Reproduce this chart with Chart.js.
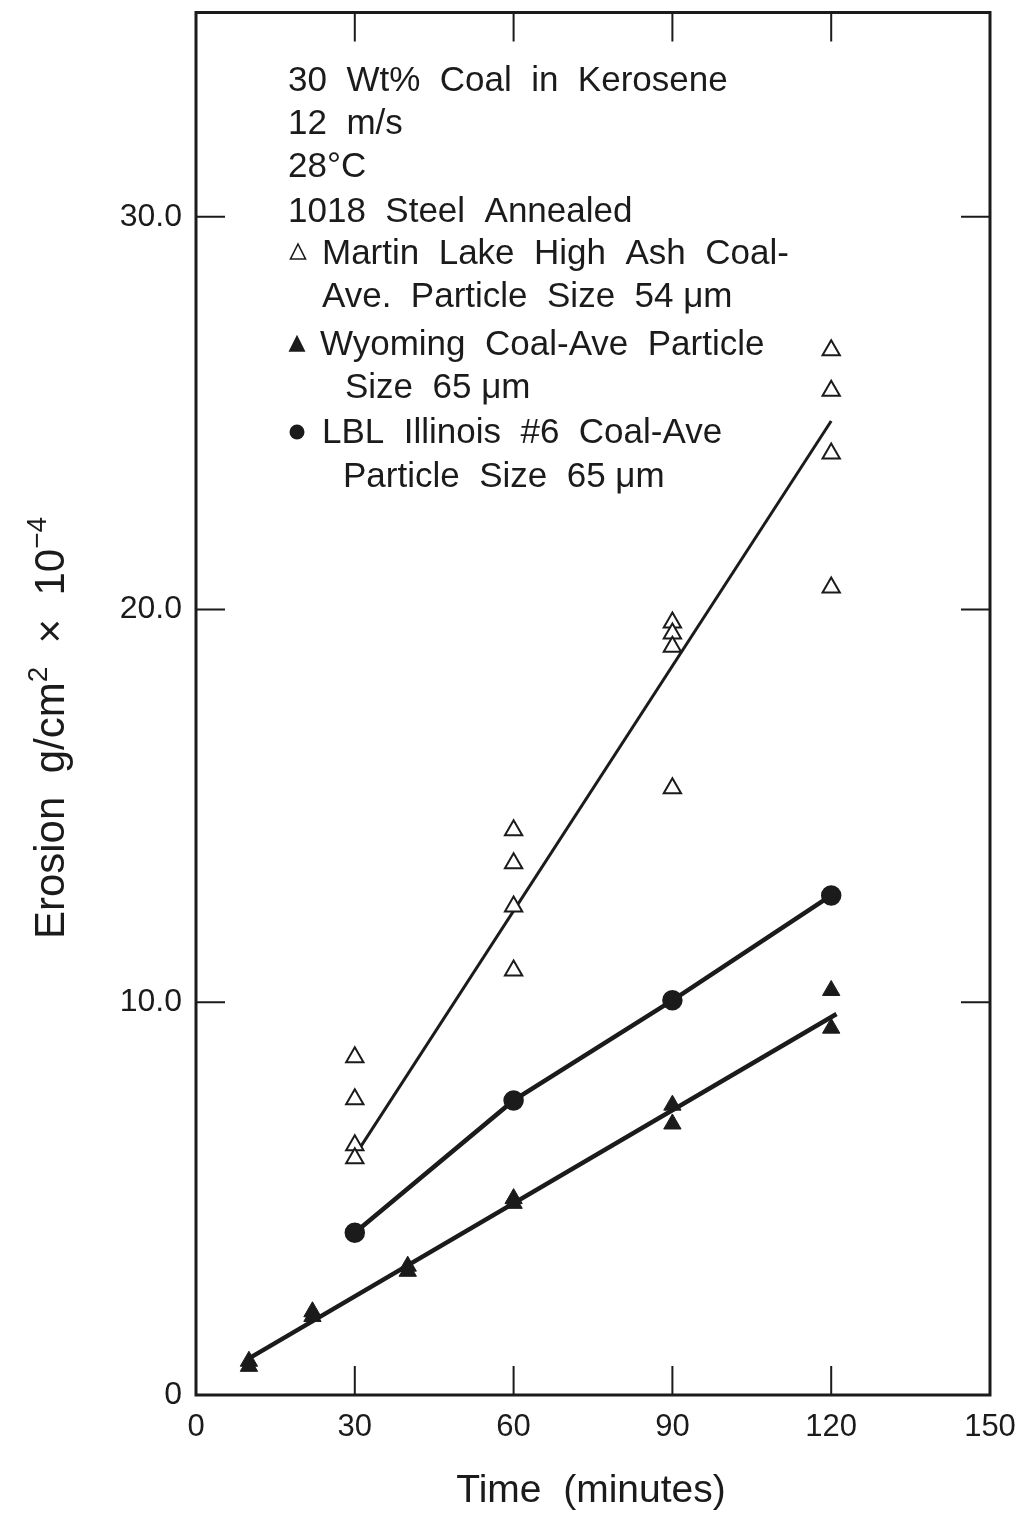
<!DOCTYPE html>
<html>
<head>
<meta charset="utf-8">
<script src="https://cdn.jsdelivr.net/npm/chart.js@4.4.1/dist/chart.umd.min.js"></script>
<style>
  html, body { margin: 0; padding: 0; background: #fff; }
  canvas { display: block; }
</style>
</head>
<body>
<canvas id="erosionChart" width="1019" height="1513"></canvas>
<script>
// valores (tempo em minutos, erosão em g/cm2 x 10^-4)
const xTicks = [0, 30, 60, 90, 120, 150];
const yTicks = [0, 10, 20, 30];

const martinTime = [30, 30, 30, 30, 60, 60, 60, 60, 90, 90, 90, 90, 120, 120, 120, 120];
const martinErosion = [8.6, 7.53, 6.36, 6.03, 14.38, 13.54, 12.44, 10.81, 19.67, 19.39, 19.05, 15.45, 26.6, 25.57, 23.97, 20.56];

const wyomingTime = [10, 10, 22, 22, 40, 40, 60, 60, 90, 90, 120, 120];
const wyomingErosion = [0.86, 0.73, 2.12, 2.0, 3.28, 3.15, 5.0, 4.88, 7.38, 6.9, 10.3, 9.34];

const illinoisTime = [30, 60, 90, 120];
const illinoisErosion = [4.13, 7.5, 10.05, 12.72];

// retas ajustadas desenhadas no original
const martinFitTime = [31, 120];
const martinFitErosion = [6.3, 24.8];
const wyomingFitTime = [10.5, 121];
const wyomingFitErosion = [0.97, 9.7];

const legendLines = [
    '30  Wt%  Coal  in  Kerosene',
    '12  m/s',
    '28°C',
    '1018  Steel  Annealed'
];
const seriesLabels = [
    ['Martin  Lake  High  Ash  Coal-', 'Ave.  Particle  Size  54 μm'],
    ['Wyoming  Coal-Ave  Particle', 'Size  65 μm'],
    ['LBL  Illinois  #6  Coal-Ave', 'Particle  Size  65 μm']
];

const INK = '#1b1b1b';
const FONT = '"Liberation Sans", Arial, Helvetica, sans-serif';

function toPoints(xs, ys) {
    return xs.map((x, i) => ({ x: x, y: ys[i] }));
}

function noPadding(s) {
    s.paddingTop = 0;
    s.paddingBottom = 0;
    s.paddingLeft = 0;
    s.paddingRight = 0;
}

// moldura com marcas para dentro, textos do quadro e títulos dos eixos
const framePlugin = {
    id: 'frame',
    afterDraw(chart) {
        const ctx = chart.ctx;
        const a = chart.chartArea;
        const xs = chart.scales.x;
        const ys = chart.scales.y;
        const tick = 29;

        ctx.save();
        ctx.strokeStyle = INK;
        ctx.lineWidth = 3;
        ctx.strokeRect(a.left, a.top, a.right - a.left, a.bottom - a.top);

        ctx.lineWidth = 2;
        ctx.beginPath();
        xTicks.slice(1, -1).forEach(v => {
            const px = xs.getPixelForValue(v);
            ctx.moveTo(px, a.bottom); ctx.lineTo(px, a.bottom - tick);
            ctx.moveTo(px, a.top); ctx.lineTo(px, a.top + tick);
        });
        yTicks.slice(1).forEach(v => {
            const py = ys.getPixelForValue(v);
            ctx.moveTo(a.left, py); ctx.lineTo(a.left + tick, py);
            ctx.moveTo(a.right, py); ctx.lineTo(a.right - tick, py);
        });
        ctx.stroke();

        // bloco de texto
        ctx.fillStyle = INK;
        ctx.font = '35px ' + FONT;
        ctx.textAlign = 'left';
        ctx.textBaseline = 'alphabetic';
        const base = [91, 134, 177, 222];
        legendLines.forEach((t, i) => ctx.fillText(t, 288, base[i]));

        const rows = [
            { y: [264, 307], x: [322, 322], sym: [298, 253] },
            { y: [355, 398], x: [320, 345], sym: [297, 345] },
            { y: [443, 487], x: [322, 343], sym: [297, 432] }
        ];
        rows.forEach((r, i) => {
            ctx.fillText(seriesLabels[i][0], r.x[0], r.y[0]);
            ctx.fillText(seriesLabels[i][1], r.x[1], r.y[1]);
        });

        // símbolos da legenda
        const tri = (cx, cy, s) => {
            ctx.beginPath();
            ctx.moveTo(cx, cy - s * 0.6);
            ctx.lineTo(cx + s / 2, cy + s * 0.4);
            ctx.lineTo(cx - s / 2, cy + s * 0.4);
            ctx.closePath();
        };
        ctx.lineWidth = 1.6;
        tri(rows[0].sym[0], rows[0].sym[1], 15);
        ctx.stroke();
        tri(rows[1].sym[0], rows[1].sym[1], 17);
        ctx.fill();
        ctx.beginPath();
        ctx.arc(rows[2].sym[0], rows[2].sym[1], 7.5, 0, Math.PI * 2);
        ctx.fill();

        // título do eixo x
        ctx.font = '39px ' + FONT;
        ctx.textAlign = 'center';
        ctx.fillText('Time  (minutes)', (a.left + a.right) / 2 - 2, 1502);

        // título do eixo y (rotacionado, com expoentes)
        ctx.translate(49, 728);
        ctx.rotate(-Math.PI / 2);
        const big = '42px ' + FONT;
        const small = '28px ' + FONT;
        const parts = [
            { t: 'Erosion  g/cm', f: big, dy: 0 },
            { t: '2', f: small, dy: -17 },
            { t: '  ×  10', f: big, dy: 0 },
            { t: '−4', f: small, dy: -18 }
        ];
        let total = 0;
        parts.forEach(p => { ctx.font = p.f; p.w = ctx.measureText(p.t).width; total += p.w; });
        let cx = -total / 2;
        ctx.textAlign = 'left';
        parts.forEach(p => {
            ctx.font = p.f;
            ctx.fillText(p.t, cx, 15 + p.dy);
            cx += p.w;
        });
        ctx.restore();
    }
};

new Chart(document.getElementById('erosionChart').getContext('2d'), {
    type: 'scatter',
    data: {
        datasets: [
            {
                label: 'Martin Lake High Ash Coal',
                data: toPoints(martinTime, martinErosion),
                pointStyle: 'triangle',
                pointRadius: 10,
                backgroundColor: '#ffffff',
                borderColor: INK,
                borderWidth: 2
            },
            {
                label: 'Wyoming Coal',
                data: toPoints(wyomingTime, wyomingErosion),
                pointStyle: 'triangle',
                pointRadius: 10,
                backgroundColor: INK,
                borderColor: INK,
                borderWidth: 1
            },
            {
                label: 'LBL Illinois #6 Coal',
                data: toPoints(illinoisTime, illinoisErosion),
                showLine: true,
                pointStyle: 'circle',
                pointRadius: 8,
                backgroundColor: INK,
                borderColor: INK,
                borderWidth: 4.5
            },
            {
                label: 'Martin fit',
                data: toPoints(martinFitTime, martinFitErosion),
                showLine: true,
                pointRadius: 0,
                borderColor: INK,
                borderWidth: 3
            },
            {
                label: 'Wyoming fit',
                data: toPoints(wyomingFitTime, wyomingFitErosion),
                showLine: true,
                pointRadius: 0,
                borderColor: INK,
                borderWidth: 4.5
            }
        ]
    },
    options: {
        responsive: false,
        animation: false,
        layout: { padding: { top: 12, right: 29, left: 0, bottom: 0 } },
        plugins: {
            legend: { display: false },
            tooltip: { enabled: false }
        },
        scales: {
            x: {
                type: 'linear',
                min: 0,
                max: 150,
                afterFit: s => { s.height = 118; noPadding(s); },
                afterBuildTicks: s => { s.ticks = xTicks.map(v => ({ value: v })); },
                grid: { display: false, drawTicks: false },
                border: { display: false },
                ticks: {
                    padding: 14,
                    color: INK,
                    font: { family: FONT, size: 31 },
                    maxRotation: 0,
                    callback: v => String(v)
                }
            },
            y: {
                type: 'linear',
                min: 0,
                max: 35.2,
                afterFit: s => { s.width = 196; noPadding(s); },
                afterBuildTicks: s => { s.ticks = yTicks.map(v => ({ value: v })); },
                grid: { display: false, drawTicks: false },
                border: { display: false },
                ticks: {
                    padding: 14,
                    color: INK,
                    font: { family: FONT, size: 32 },
                    callback: v => (v === 0 ? '0' : v.toFixed(1))
                }
            }
        }
    },
    plugins: [framePlugin]
});
</script>
</body>
</html>
